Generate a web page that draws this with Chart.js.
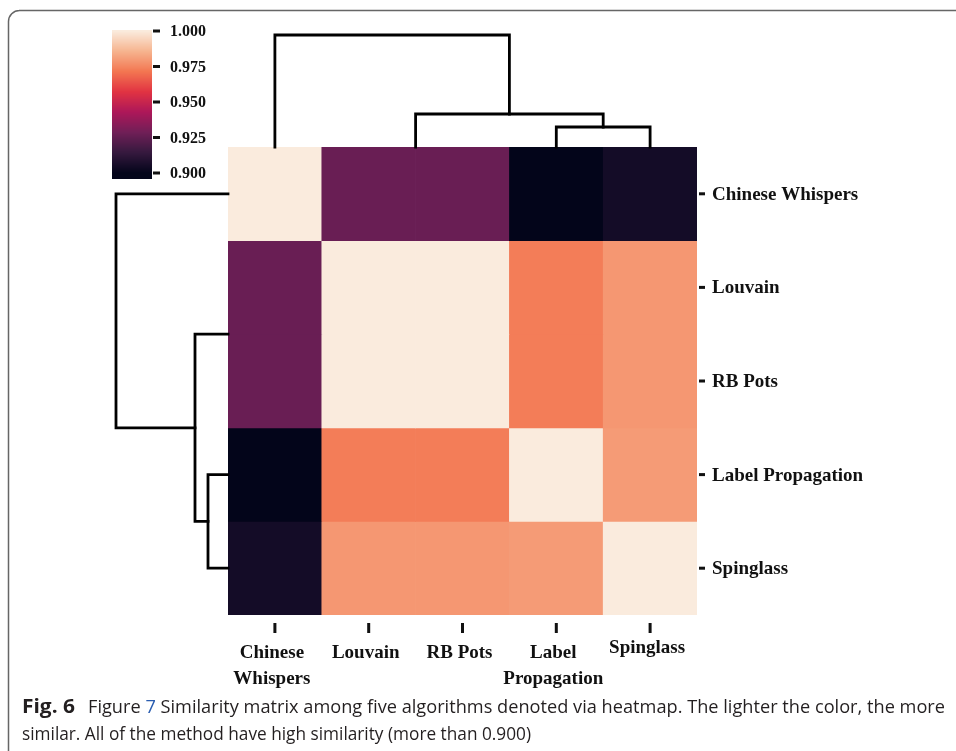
<!DOCTYPE html>
<html><head><meta charset="utf-8">
<script src="https://cdn.jsdelivr.net/npm/chart.js@4.4.0/dist/chart.umd.min.js"></script>
<style>html,body{margin:0;padding:0;background:#fff;}#wrap{position:relative;width:956px;height:751px;}</style>
</head><body><div id="wrap"><canvas id="c" width="956" height="751"></canvas></div>
<script>
// ---- data ----
const methods = ['Chinese Whispers', 'Louvain', 'RB Pots', 'Label Propagation', 'Spinglass'];
const xTickLines = [['Chinese', 'Whispers'], ['Louvain'], ['RB Pots'], ['Label', 'Propagation'], ['Spinglass']];
const rowChineseWhispers = [1.000, 0.927, 0.927, 0.900, 0.905];
const rowLouvain        = [0.927, 1.000, 1.000, 0.973, 0.979];
const rowRBPots         = [0.927, 1.000, 1.000, 0.973, 0.979];
const rowLabelProp      = [0.900, 0.973, 0.973, 1.000, 0.980];
const rowSpinglass      = [0.905, 0.979, 0.979, 0.980, 1.000];
const colorbarTicks = [0.900, 0.925, 0.950, 0.975, 1.000];
// dendrogram linkage: [childA, childB, height]; leaves 0..4, clusters 5..
const linkage = [[1, 2, 0.00], [3, 4, 0.20], [5, 6, 0.33], [0, 7, 1.12]];
const captionBold = 'Fig. 6';
const captionLine1a = 'Figure ';
const captionLink = '7';
const captionLine1b = ' Similarity matrix among five algorithms denoted via heatmap. The lighter the color, the more';
const captionLine2 = 'similar. All of the method have high similarity (more than 0.900)';

const rows = [rowChineseWhispers, rowLouvain, rowRBPots, rowLabelProp, rowSpinglass];
const vMin = colorbarTicks[0], vMax = colorbarTicks[colorbarTicks.length - 1];

// rocket colormap (seaborn) key stops
const rocketStops = [
  [0.000, [3, 5, 26]], [0.143, [53, 25, 62]], [0.286, [112, 31, 87]], [0.429, [173, 23, 89]],
  [0.571, [225, 51, 66]], [0.714, [243, 118, 81]], [0.857, [246, 180, 143]], [1.000, [250, 235, 221]]
];
function rocket(t) {
  t = Math.max(0, Math.min(1, t));
  for (let i = 1; i < rocketStops.length; i++) {
    const [t1, c1] = rocketStops[i];
    const [t0, c0] = rocketStops[i - 1];
    if (t <= t1) {
      const f = (t - t0) / (t1 - t0);
      const c = c0.map((v, k) => Math.round(v + (c1[k] - v) * f));
      return `rgb(${c[0]},${c[1]},${c[2]})`;
    }
  }
  return 'rgb(250,235,221)';
}
const colorOf = v => rocket((v - vMin) / (vMax - vMin));

const datasets = rows.map((r, i) => ({
  label: methods[i],
  data: r.map(() => 1),
  backgroundColor: r.map(colorOf),
  borderWidth: 0,
  barPercentage: 1,
  categoryPercentage: 1
}));

const SERIF = '"Liberation Serif", "Times New Roman", serif';

const decor = {
  id: 'decor',
  afterDraw(chart) {
    const ctx = chart.ctx;
    const xs = chart.scales.x, ys = chart.scales.y;
    const ca = chart.chartArea;
    ctx.save();

    // figure frame
    ctx.lineWidth = 1.5;
    ctx.strokeStyle = '#666';
    ctx.beginPath();
    ctx.moveTo(970, 10.5); ctx.lineTo(19, 10.5);
    ctx.arcTo(8.5, 10.5, 8.5, 21, 11);
    ctx.lineTo(8.5, 760);
    ctx.stroke();

    // dendrograms
    const pxPerUnit = 100;
    const leafX = i => xs.getPixelForValue(i);
    const leafY = i => (ys.getPixelForValue(i) + ys.getPixelForValue(i + 1)) / 2;
    ctx.strokeStyle = '#000';
    ctx.lineWidth = 2.8;
    ctx.lineCap = 'square';
    function dendro(horizontal) {
      const pos = [], h = [];
      for (let i = 0; i < methods.length; i++) { pos.push(horizontal ? leafX(i) : leafY(i)); h.push(0); }
      linkage.forEach(([a, b, d]) => {
        if (d > 0) {
          ctx.beginPath();
          if (horizontal) {
            const base = ca.top;
            ctx.moveTo(pos[a], base - h[a] * pxPerUnit);
            ctx.lineTo(pos[a], base - d * pxPerUnit);
            ctx.lineTo(pos[b], base - d * pxPerUnit);
            ctx.lineTo(pos[b], base - h[b] * pxPerUnit);
          } else {
            const base = ca.left;
            ctx.moveTo(base - h[a] * pxPerUnit, pos[a]);
            ctx.lineTo(base - d * pxPerUnit, pos[a]);
            ctx.lineTo(base - d * pxPerUnit, pos[b]);
            ctx.lineTo(base - h[b] * pxPerUnit, pos[b]);
          }
          ctx.stroke();
        }
        pos.push((pos[a] + pos[b]) / 2);
        h.push(d);
      });
    }
    dendro(true);
    dendro(false);

    // right y labels
    ctx.fillStyle = '#111';
    ctx.font = 'bold 19px ' + SERIF;
    ctx.textBaseline = 'middle';
    ctx.textAlign = 'left';
    methods.forEach((m, i) => {
      const y = leafY(i);
      ctx.fillRect(ca.right + 2, y - 1.5, 6, 3);
      ctx.fillText(m, ca.right + 15, y + 1);
    });

    // bottom x labels
    ctx.textAlign = 'center';
    xTickLines.forEach((lines, i) => {
      const x = leafX(i);
      ctx.fillRect(x - 1.5, ca.bottom + 8, 3, 10);
      const off = (i === 4) ? -5 : 0;
      lines.forEach((ln, k) => ctx.fillText(ln, x - 3, ca.bottom + 38 + off + k * 26));
    });

    // colorbar
    const cbL = 112, cbR = 152, cbT = 30, cbB = 179, tTop = 31, tBot = 173;
    const vToY = v => tBot - (v - vMin) / (vMax - vMin) * (tBot - tTop);
    for (let py = cbT; py < cbB; py++) {
      const v = vMin + (tBot - (py + 0.5)) / (tBot - tTop) * (vMax - vMin);
      ctx.fillStyle = colorOf(v);
      ctx.fillRect(cbL, py, cbR - cbL, 1);
    }
    ctx.fillStyle = '#111';
    ctx.font = 'bold 16px ' + SERIF;
    ctx.textAlign = 'left';
    colorbarTicks.forEach(v => {
      const y = vToY(v);
      ctx.fillRect(cbR + 1, y - 1.5, 7, 3);
      ctx.fillText(v.toFixed(3), cbR + 18, y + 1);
    });

    // caption
    ctx.textBaseline = 'alphabetic';
    ctx.textAlign = 'left';
    ctx.fillStyle = '#231f20';
    ctx.font = 'bold 19px "Open Sans", "Noto Sans", sans-serif';
    const bw = ctx.measureText(captionBold).width;
    const sb = 53 / bw;
    ctx.save(); ctx.translate(22, 713); ctx.scale(sb, 1); ctx.fillText(captionBold, 0, 0); ctx.restore();
    ctx.font = '19px "Open Sans", "Noto Sans", sans-serif';
    const wa = ctx.measureText(captionLine1a).width;
    const wl = ctx.measureText(captionLink).width;
    const wb = ctx.measureText(captionLine1b).width;
    const s1 = (945 - 88) / (wa + wl + wb);
    ctx.save(); ctx.translate(88, 713); ctx.scale(s1, 1);
    ctx.fillText(captionLine1a, 0, 0);
    ctx.fillStyle = '#2a5db0';
    ctx.fillText(captionLink, wa, 0);
    ctx.fillStyle = '#231f20';
    ctx.fillText(captionLine1b, wa + wl, 0);
    ctx.restore();
    const s2 = (531 - 22) / ctx.measureText(captionLine2).width;
    ctx.save(); ctx.translate(22, 740); ctx.scale(s2, 1); ctx.fillText(captionLine2, 0, 0); ctx.restore();

    ctx.restore();
  }
};

new Chart(document.getElementById('c'), {
  type: 'bar',
  data: { labels: methods, datasets },
  options: {
    responsive: false,
    animation: false,
    devicePixelRatio: 1,
    layout: { padding: { left: 228, right: 259, top: 147, bottom: 136 } },
    plugins: { legend: { display: false }, tooltip: { enabled: false } },
    scales: {
      x: { stacked: true, display: false, grid: { display: false } },
      y: { stacked: true, display: false, reverse: true, min: 0, max: 5, grid: { display: false } }
    }
  },
  plugins: [decor]
});
</script></body></html>
